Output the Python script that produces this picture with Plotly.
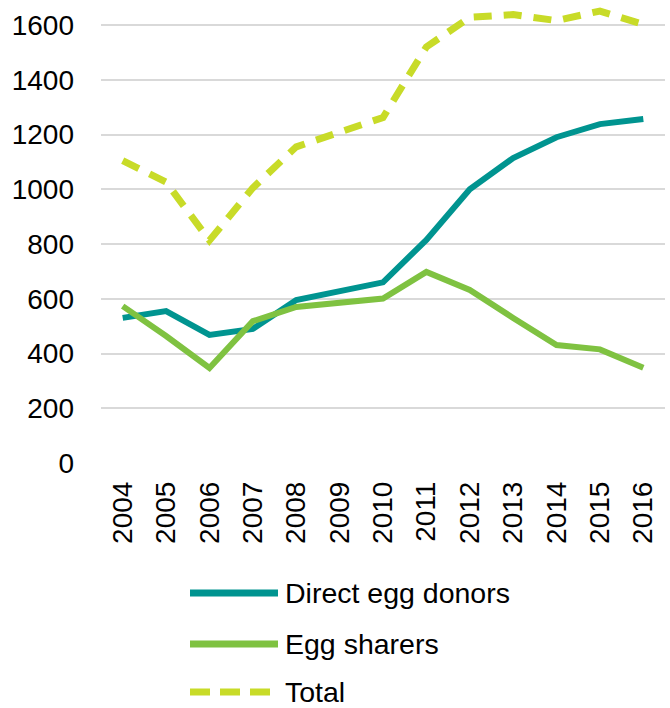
import plotly.graph_objects as go

years = ["2004", "2005", "2006", "2007", "2008", "2009", "2010",
         "2011", "2012", "2013", "2014", "2015", "2016"]
direct_egg_donors = [530, 555, 468, 490, 595, 625, 660, 815, 1000, 1114, 1190, 1238, 1257]
egg_sharers = [573, 464, 347, 518, 570, 585, 601, 698, 632, 530, 431, 415, 348]
total = [1105, 1026, 813, 1005, 1155, 1208, 1262, 1520, 1628, 1638, 1616, 1651, 1602]

series_names = ["Direct egg donors", "Egg sharers", "Total"]
colors = ["#009490", "#7FC241", "#C8DB28"]
dashes = ["solid", "solid", "18px,12px"]
y_ticks = [0, 200, 400, 600, 800, 1000, 1200, 1400, 1600]

fig = go.Figure()
for name, vals, col, dash in zip(series_names, [direct_egg_donors, egg_sharers, total], colors, dashes):
    fig.add_trace(go.Scatter(x=years, y=vals, mode="lines", name=name,
                             line=dict(color=col, width=6 if dash == "solid" else 7, dash=dash),
                             showlegend=False))

font = "Liberation Sans, Arial, sans-serif"
TOP, BOTTOM_PX, LEFT, RIGHT_PX = 3, 463, 101, 665
plot_h = BOTTOM_PX - TOP
plot_w = RIGHT_PX - LEFT
px_per_unit = (463 - 25) / 1600
fig.update_layout(
    width=670, height=708,
    margin=dict(l=LEFT, r=670 - RIGHT_PX, t=TOP, b=708 - BOTTOM_PX),
    paper_bgcolor="white", plot_bgcolor="white",
    font=dict(family=font, size=28, color="black"),
    xaxis=dict(type="category", range=[-0.5, 12.5], tickangle=-90, showgrid=False,
               showline=False, ticks="", ticklabelstandoff=12, automargin=False,
               tickfont=dict(size=28)),
    yaxis=dict(range=[0, plot_h / px_per_unit], tickvals=y_ticks, showgrid=True,
               gridcolor="#D9D9D9", gridwidth=1.5, zeroline=False, showline=False,
               ticks="", automargin=False, ticklabelstandoff=26, tickfont=dict(size=28)),
)

# Custom legend (long line samples like the reference)
leg_rows = [593, 644, 692]
for name, col, dash, py in zip(series_names, colors, dashes, leg_rows):
    yp = (BOTTOM_PX - py) / plot_h
    fig.add_shape(type="line", xref="paper", yref="paper",
                  x0=(190 - LEFT) / plot_w, x1=(278 - LEFT) / plot_w, y0=yp, y1=yp,
                  line=dict(color=col, width=7, dash=dash if dash == "solid" else "20px,10px"))
    fig.add_annotation(xref="paper", yref="paper", x=(283 - LEFT) / plot_w, y=yp,
                       text=name, showarrow=False, xanchor="left", yanchor="middle",
                       font=dict(size=28.5, color="black", family=font))

fig.write_html("out.html", config={"displayModeBar": False},
               post_script="document.body.style.margin='0';")
